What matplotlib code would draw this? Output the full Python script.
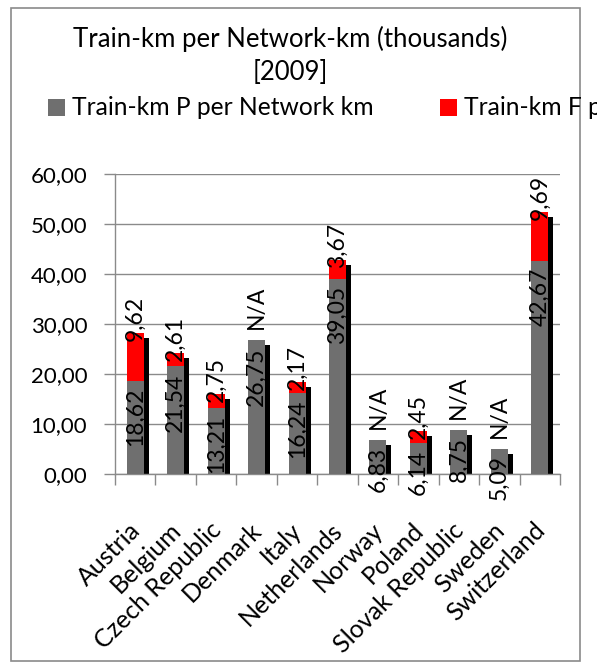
import numpy as np
import matplotlib
matplotlib.use("Agg")
import matplotlib.pyplot as plt
from matplotlib.patches import Rectangle
from matplotlib.transforms import ScaledTranslation

plt.rcParams.update({"font.family": ["Lato", "DejaVu Sans"]})

countries = ["Austria", "Belgium", "Czech Republic", "Denmark", "Italy", "Netherlands",
             "Norway", "Poland", "Slovak Republic", "Sweden", "Switzerland"]
train_p = [18.62, 21.54, 13.21, 26.75, 16.24, 39.05, 6.83, 6.14, 8.75, 5.09, 42.67]
train_f = [9.62, 2.61, 2.75, np.nan, 2.17, 3.67, np.nan, 2.45, np.nan, np.nan, 9.69]
yticks = [0, 10, 20, 30, 40, 50, 60]

GRAY, RED, GRID = "#6f6f6f", "#ff0000", "#8a8a8a"
FS_T = 18.5   # title
FS_L = 17.7   # legend
FS_X = 18     # category labels
FS_D = 16.5   # data labels
FS_Y = 16     # y tick labels

fig = plt.figure(figsize=(5.97, 6.66), dpi=100)
ax = fig.add_axes([115 / 597, 1 - 474 / 666, 445 / 597, 300 / 666])

x = np.arange(len(countries))
p = np.array(train_p)
f = np.array(train_f)
f0 = np.nan_to_num(f)
total = p + f0

w = 0.42
shift = 0.124   # shadow offset (5px right)
drop = 1.0      # shadow offset (5px down)
ax.bar(x + shift, total - drop, w, color="black", zorder=2)
ax.bar(x, p, w, color=GRAY, zorder=3)
ax.bar(x, f0, w, bottom=p, color=RED, zorder=3)


def fmt(v):
    return f"{v:.2f}".replace(".", ",")


for xi, pv, fv, tv in zip(x, p, f, total):
    ax.text(xi, pv - 1.4, fmt(pv), rotation=90, ha="center", va="top",
            fontsize=FS_D, color="black", zorder=5)
    if np.isnan(fv):
        ax.text(xi, pv + 2.2, "N/A", rotation=90, ha="center", va="bottom",
                fontsize=FS_D, color="black", zorder=5)
    else:
        ax.text(xi, tv - 1.6, fmt(fv), rotation=90, ha="center", va="bottom",
                fontsize=FS_D, color="black", zorder=5)

ax.set_ylim(0, 60)
ax.set_xlim(-0.5, len(countries) - 0.5)
ax.set_yticks(yticks)
ax.set_yticklabels([fmt(v) for v in yticks], fontsize=FS_Y)
ax.yaxis.grid(True, color=GRID, lw=1)
ax.set_axisbelow(True)
ax.tick_params(axis="y", length=8, width=1, color=GRID, pad=12)

ax.set_xticks(x)
ax.set_xticklabels(countries, rotation=45, ha="right", rotation_mode="anchor", fontsize=FS_X)
ax.set_xticks(np.arange(-0.5, len(countries)), minor=True)
ax.tick_params(axis="x", which="major", length=0, pad=32)
ax.tick_params(axis="x", which="minor", length=8, width=1, color=GRID)
off = ScaledTranslation(-7 / 100, 0, fig.dpi_scale_trans)
for lab in ax.get_xticklabels():
    lab.set_transform(lab.get_transform() + off)

for s in ["top", "right"]:
    ax.spines[s].set_visible(False)
for s in ["left", "bottom"]:
    ax.spines[s].set_color(GRID)
    ax.spines[s].set_linewidth(1)

# title
fig.text(290 / 597, 1 - 39 / 666, "Train-km per Network-km (thousands)", ha="center",
         va="center", fontsize=FS_T)
fig.text(290 / 597, 1 - 72 / 666, "[2009]", ha="center", va="center", fontsize=FS_T)

# legend (second entry runs off the right edge, as in the original)
ly = 1 - 107.5 / 666
fig.add_artist(Rectangle((48 / 597, ly - 8.5 / 666), 17 / 597, 17 / 666,
                         transform=fig.transFigure, color=GRAY, lw=0))
fig.add_artist(Rectangle((440 / 597, ly - 8.5 / 666), 17 / 597, 17 / 666,
                         transform=fig.transFigure, color=RED, lw=0))
fig.text(72 / 597, ly, "Train-km P per Network km", ha="left", va="center", fontsize=FS_L)
fig.text(464 / 597, ly, "Train-km F per Network km", ha="left", va="center", fontsize=FS_L)

# chart frame
fx0, fx1, fy0, fy1 = 11 / 597, 580 / 597, 1 - 661 / 666, 1 - 8 / 666
fig.add_artist(Rectangle((fx0, fy0), fx1 - fx0, fy1 - fy0, transform=fig.transFigure,
                         fill=False, edgecolor=GRID, lw=1.2))

fig.savefig("out.png", dpi=100)
